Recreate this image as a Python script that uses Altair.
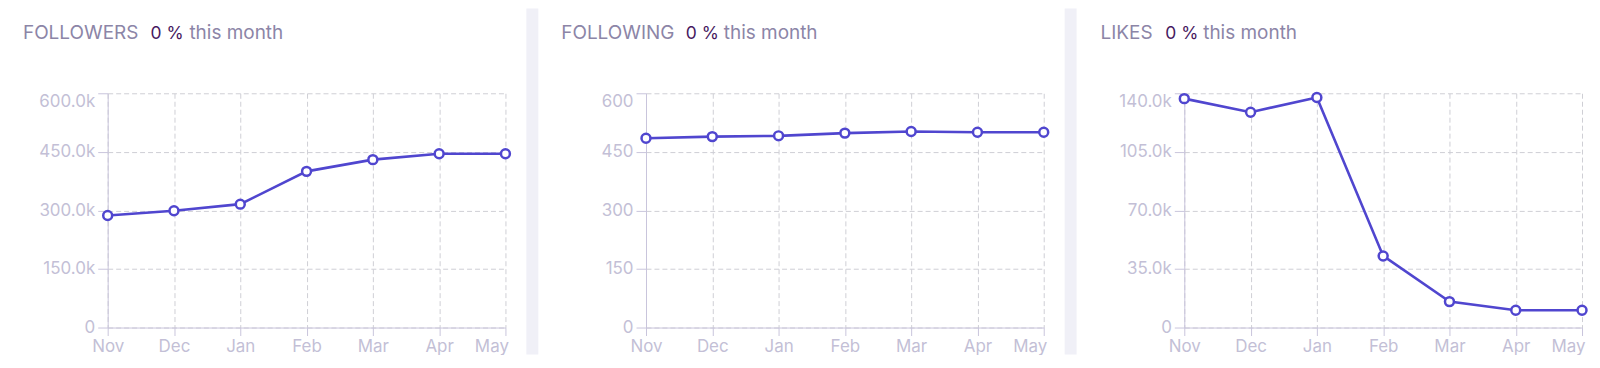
import altair as alt
import pandas as pd

# ---- data ----
months = ["Nov", "Dec", "Jan", "Feb", "Mar", "Apr", "May"]
followers = [287000, 299000, 316000, 400000, 430000, 445000, 445000]
following = [485, 489, 491, 498, 502, 500, 500]
likes = [136800, 128700, 137500, 42800, 15500, 10300, 10300]

panel_names = ["FOLLOWERS", "FOLLOWING", "LIKES"]
change_text = "0 %"
suffix_text = "this month"

followers_ticks = [0, 150000, 300000, 450000, 600000]
following_ticks = [0, 150, 300, 450, 600]
likes_ticks = [0, 35000, 70000, 105000, 140000]

# ---- style ----
FONT = "Inter"
LINE = "#5046cf"
BG = "#f0f0f7"
GRID = "#cfcfd5"
AXC = "#c9c5dc"
LBL = "#c3bfd6"
TITLE_C = "#8c85a7"
CHANGE_C = "#46185e"
W, H = 399, 235

K_EXPR = "datum.value == 0 ? '0' : format(datum.value / 1000, '.1f') + 'k'"


def x_axis():
    return alt.Axis(
        title=None, labelAngle=0, grid=True, gridColor=GRID, gridDash=[5, 3],
        domainColor=AXC, tickColor=AXC, tickSize=8, labelColor=LBL,
        labelFont=FONT, labelFontSize=17, labelPadding=3, labelFlush=False,
        labelAlign={"condition": {"test": "datum.index == 1", "value": "right"}, "value": "center"},
        labelOffset={"condition": {"test": "datum.index == 1", "value": 3}, "value": 0},
    )


def y_axis(ticks, k_format):
    kw = dict(
        title=None, values=ticks, grid=True, gridColor=GRID, gridDash=[5, 3],
        domainColor=AXC, tickColor=AXC, tickSize=10, labelColor=LBL,
        labelFont=FONT, labelFontSize=17, labelPadding=3,
        labelBaseline={"condition": {"test": "datum.index == 1", "value": "top"}, "value": "middle"},
    )
    if k_format:
        kw["labelExpr"] = K_EXPR
    else:
        kw["format"] = "d"
    return alt.Axis(**kw)


def panel(values, name, ticks, k_format, text_x, strip):
    df = pd.DataFrame({"month": months, "value": values})
    x = alt.X("month:O", sort=months, scale=alt.Scale(type="point", padding=0), axis=x_axis())
    y = alt.Y("value:Q", scale=alt.Scale(domain=[ticks[0], ticks[-1]], nice=False),
              axis=y_axis(ticks, k_format))
    base = alt.Chart(df)
    line = base.mark_line(color=LINE, strokeWidth=2.6).encode(x=x, y=y)
    pts = base.mark_circle(fill="white", stroke=LINE, strokeWidth=2.5, size=80, opacity=1).encode(x=x, y=y)

    one = alt.Data(values=[{"a": 1}])
    t1 = alt.Chart(one).mark_text(align="left", baseline="alphabetic", font=FONT, fontSize=19,
                                  color=TITLE_C, text=name).encode(x=alt.value(text_x[0]), y=alt.value(-54))
    t2 = alt.Chart(one).mark_text(align="left", baseline="alphabetic", font=FONT, fontSize=17.5,
                                  color=CHANGE_C, text=change_text).encode(x=alt.value(text_x[1]), y=alt.value(-54))
    t3 = alt.Chart(one).mark_text(align="left", baseline="alphabetic", font=FONT, fontSize=19,
                                  color=TITLE_C, text=suffix_text).encode(x=alt.value(text_x[2]), y=alt.value(-54))
    layers = [line, pts, t1, t2, t3]
    if strip:
        gap = alt.Chart(one).mark_rect(color=BG).encode(
            x=alt.value(-120), x2=alt.value(-108), y=alt.value(-85), y2=alt.value(262))
        layers = [gap] + layers
    return alt.layer(*layers).properties(width=W, height=H)


p1 = panel(followers, panel_names[0], followers_ticks, True, [-85, 43, 82], False)
p2 = panel(following, panel_names[1], following_ticks, False, [-85, 40, 78], True)
p3 = panel(likes, panel_names[2], likes_ticks, True, [-84, -19, 19], True)

chart = alt.hconcat(p1, p2, p3, spacing=141, bounds="flush").properties(
    padding={"left": 15, "top": 0, "right": 0, "bottom": 0},
    background="white",
).configure_view(stroke=None)

chart.save("out.html", embed_options={"renderer": "svg", "actions": False})
